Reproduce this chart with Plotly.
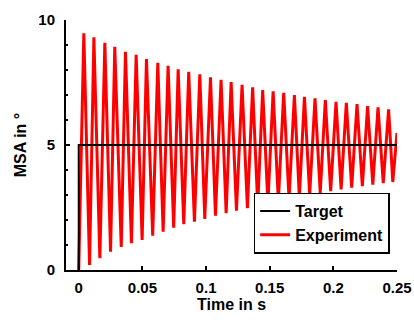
import plotly.graph_objects as go

# Experiment: start, then alternating peaks / troughs
peak_t = [0.0040, 0.0119, 0.0205, 0.0283, 0.0367, 0.0451, 0.0532, 0.0621, 0.0702, 0.0781,
          0.0864, 0.0951, 0.1035, 0.1118, 0.1197, 0.1283, 0.1366, 0.1445, 0.1527, 0.1610,
          0.1694, 0.1773, 0.1856, 0.1937, 0.2021, 0.2102, 0.2186, 0.2269, 0.2351, 0.2434]
peak_v = [9.47, 9.31, 9.09, 8.93, 8.73, 8.61, 8.44, 8.29, 8.17, 8.03,
          7.93, 7.83, 7.71, 7.61, 7.52, 7.41, 7.31, 7.20, 7.15, 7.09,
          7.00, 6.93, 6.87, 6.80, 6.73, 6.69, 6.64, 6.56, 6.51, 6.43]
trough_t = [0.0085, 0.0166, 0.0250, 0.0334, 0.0414, 0.0498, 0.0581, 0.0663, 0.0746, 0.0825,
            0.0909, 0.0990, 0.1074, 0.1158, 0.1239, 0.1325, 0.1406, 0.1486, 0.1568, 0.1652,
            0.1733, 0.1814, 0.1897, 0.1979, 0.2061, 0.2144, 0.2228, 0.2310, 0.2392, 0.2467]
trough_v = [0.20, 0.47, 0.73, 0.92, 1.07, 1.20, 1.37, 1.53, 1.69, 1.83,
            1.93, 2.04, 2.17, 2.27, 2.37, 2.47, 2.57, 2.66, 2.75, 2.84,
            2.92, 3.00, 3.08, 3.15, 3.22, 3.29, 3.35, 3.41, 3.47, 3.52]
start_t, start_v = 0.0, 0.0
end_t, end_v = 0.25, 5.48

target_t = [0.0, 0.0, 0.25]
target_v = [0.0, 5.0, 5.0]

x_ticks = [0, 0.05, 0.1, 0.15, 0.2, 0.25]
x_ticklabels = ["0", "0.05", "0.1", "0.15", "0.2", "0.25"]
y_ticks = [0, 5, 10]

exp_t = [start_t]
exp_v = [start_v]
for pt, pv, tt, tv in zip(peak_t, peak_v, trough_t, trough_v):
    exp_t += [pt, tt]
    exp_v += [pv, tv]
exp_t.append(end_t)
exp_v.append(end_v)

fig = go.Figure()
fig.add_trace(go.Scatter(x=exp_t, y=exp_v, mode="lines", name="Experiment",
                         line=dict(color="#ff0000", width=3), legendrank=2))
fig.add_trace(go.Scatter(x=target_t, y=target_v, mode="lines", name="Target",
                         line=dict(color="black", width=2), legendrank=1))

fig.update_layout(
    width=414, height=325,
    margin=dict(l=66, r=17, t=20, b=55),
    paper_bgcolor="white", plot_bgcolor="white",
    font=dict(family="Liberation Sans, Arial, sans-serif", size=15, color="black", weight="bold"),
    legend=dict(x=0.567, y=0.31, xanchor="left", yanchor="top",
                bordercolor="black", borderwidth=1.5, bgcolor="white",
                font=dict(size=16, weight="bold"), tracegroupgap=0),
    xaxis=dict(range=[-0.01, 0.25], tickvals=x_ticks, ticktext=x_ticklabels,
               showline=True, linecolor="black", linewidth=2, ticks="inside",
               ticklen=4, tickwidth=2, tickcolor="black", showgrid=False, zeroline=False,
               ticklabelstandoff=3, automargin=False,
               title=dict(text="Time in s", font=dict(size=16, weight="bold"), standoff=0)),
    yaxis=dict(range=[0, 10], tickvals=y_ticks, showline=True, linecolor="black", linewidth=2,
               ticks="inside", ticklen=4, tickwidth=2, tickcolor="black",
               showgrid=False, zeroline=False, ticklabelstandoff=6, automargin=False,
               minor=dict(dtick=1, ticks="inside", ticklen=2, tickwidth=1.5, tickcolor="black"),
               title=dict(text="MSA in °", font=dict(size=16, weight="bold"), standoff=8)),
)

fig.write_html("out.html", config={"displayModeBar": False},
               post_script="document.body.style.margin='0';document.body.style.overflow='hidden';")
